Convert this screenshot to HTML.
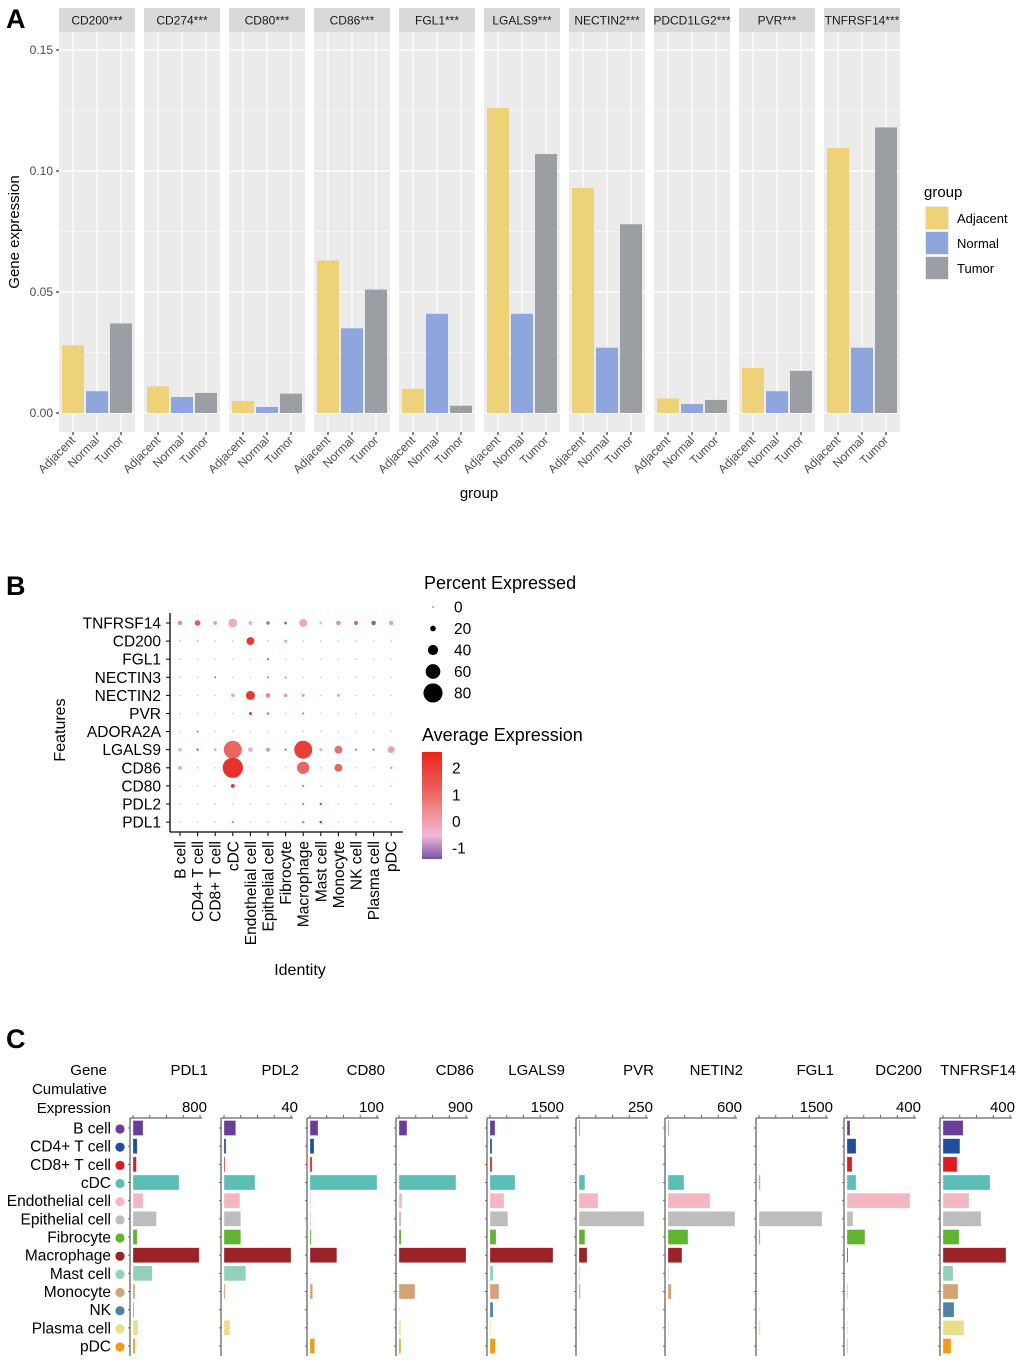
<!DOCTYPE html>
<html><head><meta charset="utf-8">
<style>
body{margin:0;background:#fff;}
svg{display:block;font-family:"Liberation Sans",Arial,sans-serif;}
</style></head>
<body>
<svg id="fig" width="1020" height="1362" viewBox="0 0 1020 1362" xmlns="http://www.w3.org/2000/svg">
<g id="pA"></g>
<g id="pB"></g>
<g id="pC"></g>
</svg>
<script>
// ---------- Panel A data ----------
const genesA = ["CD200***","CD274***","CD80***","CD86***","FGL1***","LGALS9***","NECTIN2***","PDCD1LG2***","PVR***","TNFRSF14***"];
const groupsA = ["Adjacent","Normal","Tumor"];
const adjacentVals = [0.028,0.011,0.005,0.063,0.010,0.126,0.093,0.006,0.0186,0.1095];
const normalVals = [0.009,0.0066,0.0025,0.035,0.041,0.041,0.027,0.0037,0.009,0.027];
const tumorVals = [0.037,0.0083,0.008,0.051,0.003,0.107,0.078,0.0054,0.0174,0.118];
const yTicksA = [0,0.05,0.10,0.15];
const yTickLabelsA = ["0.00","0.05","0.10","0.15"];

// ---------- Panel B data ----------
const featuresB = ["TNFRSF14","CD200","FGL1","NECTIN3","NECTIN2","PVR","ADORA2A","LGALS9","CD86","CD80","PDL2","PDL1"];
const cellsB = ["B cell","CD4+ T cell","CD8+ T cell","cDC","Endothelial cell","Epithelial cell","Fibrocyte","Macrophage","Mast cell","Monocyte","NK cell","Plasma cell","pDC"];
const pctB = [
 [15,20,12,35,12,10,8,30,8,15,12,15,15],
 [2,3,2,2,30,2,8,2,2,2,2,2,2],
 [2,2,2,2,2,4,2,2,2,2,2,2,2],
 [2,2,3,2,2,3,3,2,2,2,2,2,2],
 [2,2,2,10,35,15,10,8,2,8,2,2,2],
 [2,2,2,2,8,6,2,5,2,2,2,2,2],
 [2,3,2,2,2,2,2,2,2,2,2,2,2],
 [12,8,6,75,15,12,6,75,8,30,6,5,25],
 [12,3,2,85,2,2,2,50,2,30,2,2,6],
 [2,2,2,12,2,2,2,5,2,2,2,2,2],
 [2,2,2,2,2,2,2,5,5,2,2,2,2],
 [2,2,2,4,2,2,2,6,6,2,2,2,2]
];
const avgB = [
 [1,1.8,0.6,0.3,0.2,-1,-1,0.4,0,1,1.8,-1.2,-0.3],
 [0.3,0.5,0.3,0.3,2.3,0.2,0.6,0,0,0,0,0,0],
 [0,0,0,0,0,2,0,0,0,0,0,0,0],
 [0,0,2,0,0,2,1.5,0,0,0,0,0,0],
 [0,0,0,0.6,2.3,1.1,0.8,0.7,0,0.6,0,0,0],
 [0,0,0,0,2.3,1.5,0,1.3,0,0,0,0,0],
 [0,2,0,0,0,0,0,0,0,0,0,0,0],
 [0,-0.5,-0.3,1.6,0.3,-0.5,-0.6,2.2,-0.2,1.5,-0.5,-0.7,0.6],
 [0.5,0,0,2.4,0,0,0,1.6,0,1.6,0,0,-0.3],
 [0,0,0,2.4,0,0,0,1.3,0,0,0,0,0],
 [0,0,0,0,0,0,0,1.5,2.4,0,0,0,0],
 [0,0,0,1.5,0,0,0,1.4,2.5,0,0,0,0]
];
const pctLegend = [0,20,40,60,80];
const avgLegend = [2,1,0,-1];

// ---------- Panel C data ----------
const genesC = ["PDL1","PDL2","CD80","CD86","LGALS9","PVR","NETIN2","FGL1","DC200","TNFRSF14"];
const maxC = [800,40,100,900,1500,250,600,1500,400,400];
const cellsC = ["B cell","CD4+ T cell","CD8+ T cell","cDC","Endothelial cell","Epithelial cell","Fibrocyte","Macrophage","Mast cell","Monocyte","NK","Plasma cell","pDC"];
const cellColorsC = ["#6a3d9a","#1f4e9c","#e31a1c","#5bbfb6","#f4b6c2","#bdbdbd","#5fb52e","#9b2226","#93d0b8","#d4a373","#4e83a8","#e8df86","#f39c12"];
const valsC = [
 [120,50,40,550,120,280,50,790,230,25,10,60,25],
 [7,1.2,0.6,18.5,9.5,10,10,40,13,0.8,0,3.5,0],
 [12,6,3,100,1,1,2,40,0,4,0,0,7],
 [107,0,0,765,40,30,30,900,0,215,0,25,25],
 [112,45,45,560,313,400,135,1410,70,200,70,20,120],
 [3,0,0,22,71,243,22,30,3,5,0,3,0],
 [5,0,0,143,376,600,179,125,5,30,0,5,0],
 [0,0,0,30,0,1410,25,0,0,0,0,30,0],
 [18,54,30,54,376,36,107,6,0,4,0,4,4],
 [120,101,84,281,155,227,96,376,60,90,66,125,48]
];
const axisXC = [130,221,307,396,487,576,665,756,844,940];

const NS="http://www.w3.org/2000/svg";
function mk(parent,tag,attrs,text){const e=document.createElementNS(NS,tag);for(const k in attrs)e.setAttribute(k,attrs[k]);if(text!==undefined)e.textContent=text;parent.appendChild(e);return e;}
const fig=document.getElementById('fig');

let L;
L=mk(fig,'text',{x:6,y:28,'font-size':27,'font-weight':'bold'},'A');


L=mk(fig,'text',{x:6,y:595,'font-size':27,'font-weight':'bold'},'B');


L=mk(fig,'text',{x:6,y:1048,'font-size':27,'font-weight':'bold'},'C');



// ===== Panel A =====
(function(){
 const g=document.getElementById('pA');
 const top=32,bot=432,x0=59,pitch=85,pw=76;
 const yS=v=>413 - v/0.05*121;
 const series=[adjacentVals,normalVals,tumorVals];
 const cols=["#edd277","#8fa6dc","#9b9ea3"];
 genesA.forEach((gn,i)=>{
  const px=x0+i*pitch;
  const fac=mk(g,'g',{});
  
  
  mk(fac,'rect',{x:px,y:8,width:pw,height:24,fill:'#d9d9d9'});
  const st=mk(fac,'text',{x:px+pw/2,y:24.5,'font-size':12,'text-anchor':'middle',fill:'#1a1a1a'},gn);
  
  
  mk(fac,'rect',{x:px,y:top,width:pw,height:bot-top,fill:'#ebebeb'});
  for(let v=0.025;v<0.16;v+=0.05) mk(fac,'line',{x1:px,x2:px+pw,y1:yS(v),y2:yS(v),stroke:'#fff','stroke-width':0.6});
  yTicksA.forEach(v=>mk(fac,'line',{x1:px,x2:px+pw,y1:yS(v),y2:yS(v),stroke:'#fff','stroke-width':1.2}));
  groupsA.forEach((gr,j)=>{
   const cx=px+14+j*24;
   mk(fac,'line',{x1:cx,x2:cx,y1:top,y2:bot,stroke:'#fff','stroke-width':1.2});
  });
  groupsA.forEach((gr,j)=>{
   const cx=px+14+j*24;const v=series[j][i];
   const b=mk(fac,'rect',{x:cx-11,y:yS(v),width:22,height:yS(0)-yS(v),fill:cols[j]});
   
   
   mk(fac,'line',{x1:cx,x2:cx,y1:bot,y2:bot+3,stroke:'#333','stroke-width':1.2});
   const t=mk(fac,'text',{x:0,y:0,'font-size':12,'text-anchor':'end',fill:'#4d4d4d',transform:`translate(${cx+3},${bot+9}) rotate(-45)`},gr);
   
   
  });
 });
 yTicksA.forEach((v,k)=>{
  mk(g,'line',{x1:56,x2:59,y1:yS(v),y2:yS(v),stroke:'#333','stroke-width':1.2});
  const t=mk(g,'text',{x:53,y:yS(v)+4,'font-size':12,'text-anchor':'end',fill:'#4d4d4d'},yTickLabelsA[k]);
  
  
 });
 let t=mk(g,'text',{x:0,y:0,'font-size':15,'text-anchor':'middle',transform:'translate(19,232) rotate(-90)'},'Gene expression');
 
 
 t=mk(g,'text',{x:479,y:498,'font-size':15,'text-anchor':'middle'},'group');
 
 
 const lg=mk(g,'g',{});
 
 
 mk(lg,'text',{x:924,y:197,'font-size':15},'group');
 groupsA.forEach((gr,j)=>{
  const e=mk(lg,'g',{});
  
  
  mk(e,'rect',{x:925,y:206+j*25,width:24,height:24,fill:'#ebebeb'});
  mk(e,'rect',{x:926,y:207+j*25,width:22,height:22,fill:cols[j]});
  mk(e,'text',{x:957,y:223+j*25,'font-size':13},gr);
 });
})();

// ===== Panel B =====
(function(){
 const g=document.getElementById('pB');
 const cx0=180,dx=17.6,ry0=623,dy=18.1;
 const xS=i=>cx0+i*dx, yS=i=>ry0+i*dy;
 const rS=p=>0.6+p*0.112;
 function col(v){
  const stops=[[-1.4,[123,82,168]],[-0.5,[196,150,210]],[0,[242,184,214]],[1,[240,140,140]],[2.6,[232,36,28]]];
  v=Math.max(-1.4,Math.min(2.6,v));
  for(let k=0;k<stops.length-1;k++){const a=stops[k],b=stops[k+1];if(v<=b[0]){const t=(v-a[0])/(b[0]-a[0]);return 'rgb('+a[1].map((c,m)=>Math.round(c+(b[1][m]-c)*t)).join(',')+')';}}
  return 'rgb(232,36,28)';
 }
 mk(g,'line',{x1:170,x2:170,y1:613,y2:832,stroke:'#000','stroke-width':1.3});
 mk(g,'line',{x1:170,x2:403,y1:832,y2:832,stroke:'#000','stroke-width':1.3});
 featuresB.forEach((f,r)=>{
  mk(g,'line',{x1:166,x2:170,y1:yS(r),y2:yS(r),stroke:'#000'});
  const t=mk(g,'text',{x:161,y:yS(r)+5.5,'font-size':15.5,'text-anchor':'end'},f);
  
  
  cellsB.forEach((c,i)=>{
   const d=mk(g,'circle',{cx:xS(i),cy:yS(r),r:rS(pctB[r][i]),fill:col(avgB[r][i])});
   
   
  });
 });
 cellsB.forEach((c,i)=>{
  mk(g,'line',{x1:xS(i),x2:xS(i),y1:832,y2:836,stroke:'#000'});
  const t=mk(g,'text',{x:0,y:0,'font-size':15.5,'text-anchor':'end',transform:`translate(${xS(i)+5.5},841) rotate(-90)`},c);
  
  
 });
 let t=mk(g,'text',{x:0,y:0,'font-size':16,'text-anchor':'middle',transform:'translate(65,730) rotate(-90)'},'Features');
 
 
 t=mk(g,'text',{x:300,y:975,'font-size':16,'text-anchor':'middle'},'Identity');
 
 
 const l1=mk(g,'g',{});
 
 
 mk(l1,'text',{x:424,y:589,'font-size':18},'Percent Expressed');
 pctLegend.forEach((p,k)=>{
  const y=607+k*21.5;
  mk(l1,'circle',{cx:433,cy:y,r:rS(p),fill:'#000'});
  mk(l1,'text',{x:454,y:y+5.5,'font-size':15.5},String(p));
 });
 const l2=mk(g,'g',{});
 
 
 mk(l2,'text',{x:422,y:741,'font-size':18},'Average Expression');
 const defs=mk(l2,'defs',{});
 const lgd=mk(defs,'linearGradient',{id:'cg',x1:0,y1:0,x2:0,y2:1});
 [[0,2.6],[0.35,1.7],[0.55,1],[0.78,0],[1,-1.4]].forEach(s=>mk(lgd,'stop',{offset:s[0],'stop-color':col(s[1])}));
 mk(l2,'rect',{x:422,y:752,width:20,height:107,fill:'url(#cg)'});
 avgLegend.forEach(v=>{
  const y=821-v*26.7;
  mk(l2,'text',{x:452,y:y+6,'font-size':15.5},String(v));
 });
})();

// ===== Panel C =====
(function(){
 const g=document.getElementById('pC');
 const ry0=1128,dy=18.17;
 ["Gene","Cumulative","Expression"].forEach((s,k)=>{
  const t=mk(g,'text',{x:[107,107,111][k],y:1075+k*19,'font-size':15,'text-anchor':'end'},s);
  
  
 });
 cellsC.forEach((c,r)=>{
  const y=ry0+r*dy;
  const t=mk(g,'text',{x:111,y:y+5.5,'font-size':15.5,'text-anchor':'end'},c);
  
  
  const d=mk(g,'circle',{cx:120,cy:y+1,r:4.6,fill:cellColorsC[r]});
  
  
 });
 genesC.forEach((gn,i)=>{
  const a=axisXC[i];
  const sub=mk(g,'g',{});
  
  
  const xS=v=>a+3+v/maxC[i]*67;
  let t=mk(sub,'text',{x:Math.min(a+78,1016),y:1075,'font-size':15,'text-anchor':'end'},gn);
  
  
  t=mk(sub,'text',{x:Math.min(a+77,1015),y:1112,'font-size':15,'text-anchor':'end'},String(maxC[i]));
  
  
  mk(sub,'line',{x1:a,x2:a,y1:1118,y2:1356,stroke:'#666','stroke-width':1.3});
  mk(sub,'line',{x1:a,x2:a+72,y1:1118,y2:1118,stroke:'#666','stroke-width':1.3});
  for(let k=0;k<=4;k++){const x=xS(maxC[i]*k/4);mk(sub,'line',{x1:x,x2:x,y1:1115,y2:1118,stroke:'#666'});}
  cellsC.forEach((c,r)=>{
   const y=ry0+r*dy;
   mk(sub,'line',{x1:a-2,x2:a,y1:y,y2:y,stroke:'#666'});
   const v=valsC[i][r];
   if(v>0){
    const b=mk(sub,'rect',{x:a+3,y:y-7.5,width:Math.max(0.8,xS(v)-(a+3)),height:15,fill:cellColorsC[r],stroke:'#fff','stroke-opacity':0.5,'stroke-width':0.6});
    
    
   }
  });
 });
})();
</script>
</body></html>
